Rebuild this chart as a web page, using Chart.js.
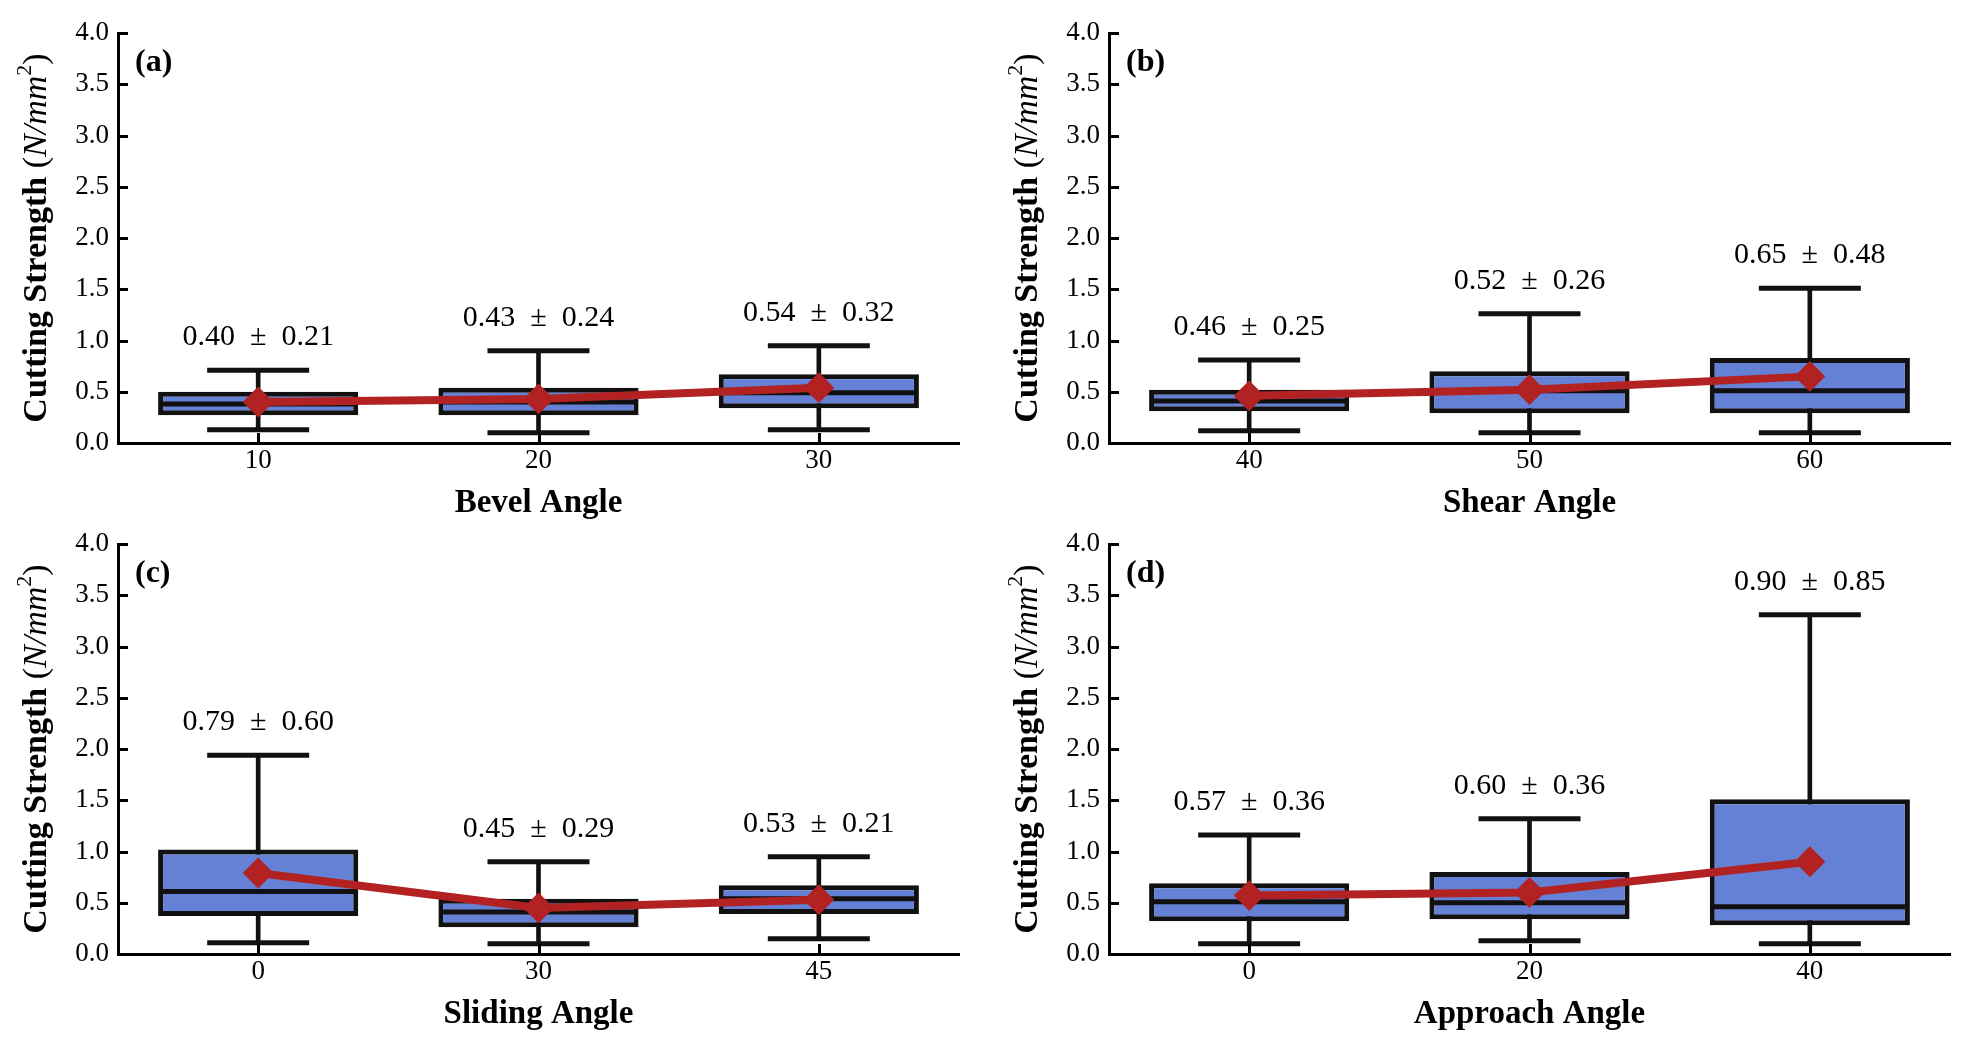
<!DOCTYPE html>
<html>
<head>
<meta charset="utf-8">
<script src="https://cdn.jsdelivr.net/npm/chart.js@4.4.1/dist/chart.umd.min.js"></script>
<style>
  body { margin: 0; background: #fff; width: 1976px; height: 1046px; overflow: hidden; }
  .panel { position: absolute; width: 988px; height: 523px; }
</style>
</head>
<body>
<div class="panel" style="left:0px;top:0px"><canvas id="panel0" width="988" height="523"></canvas></div>
<div class="panel" style="left:991px;top:0px"><canvas id="panel1" width="988" height="523"></canvas></div>
<div class="panel" style="left:0px;top:511px"><canvas id="panel2" width="988" height="523"></canvas></div>
<div class="panel" style="left:991px;top:511px"><canvas id="panel3" width="988" height="523"></canvas></div>
<script>
// one row per panel: (a) bevel, (b) shear, (c) sliding, (d) approach
var panelTags = ['(a)', '(b)', '(c)', '(d)'];
var axisTitles = ['Bevel Angle', 'Shear Angle', 'Sliding Angle', 'Approach Angle'];
var categories = [['10', '20', '30'], ['40', '50', '60'], ['0', '30', '45'], ['0', '20', '40']];

var means = [[0.40, 0.43, 0.54], [0.46, 0.52, 0.65], [0.79, 0.45, 0.53], [0.57, 0.60, 0.90]];
var sds = [[0.21, 0.24, 0.32], [0.25, 0.26, 0.48], [0.60, 0.29, 0.21], [0.36, 0.36, 0.85]];
var medians = [[0.38, 0.40, 0.49], [0.41, 0.51, 0.51], [0.61, 0.41, 0.54], [0.51, 0.50, 0.46]];
var q1s = [[0.27, 0.27, 0.34], [0.31, 0.29, 0.29], [0.37, 0.26, 0.39], [0.32, 0.34, 0.28]];
var q3s = [[0.50, 0.54, 0.67], [0.52, 0.70, 0.83], [1.02, 0.54, 0.67], [0.69, 0.80, 1.51]];
var lowWhiskers = [[0.13, 0.10, 0.13], [0.12, 0.10, 0.10], [0.11, 0.10, 0.15], [0.10, 0.13, 0.10]];
var highWhiskers = [[0.71, 0.90, 0.95], [0.81, 1.26, 1.51], [1.94, 0.90, 0.95], [1.16, 1.32, 3.31]];

var yMin = 0;
var yMax = 4;
var yStep = 0.5;

var serif = '"Liberation Serif", "Times New Roman", serif';
var boxBlue = '#6581d5';
var meanRed = '#b22222';
var ink = '#111111';

// inward tick marks, the y title with italic units, panel tag and mean ± sd labels
var decorations = {
  id: 'decorations',
  afterDatasetsDraw: function(chart) {
    var ctx = chart.ctx;
    var area = chart.chartArea;
    var xs = chart.scales.x;
    var ys = chart.scales.y;
    var p = chart.options.plugins.decorations;

    ctx.save();
    ctx.strokeStyle = '#000';
    ctx.lineWidth = 3;
    ys.ticks.forEach(function(t) {
      var y = Math.round(ys.getPixelForValue(t.value)) + 0.5;
      ctx.beginPath();
      ctx.moveTo(area.left, y);
      ctx.lineTo(area.left + 10, y);
      ctx.stroke();
    });
    xs.ticks.forEach(function(t, i) {
      var x = Math.round(xs.getPixelForValue(i)) + 0.5;
      ctx.beginPath();
      ctx.moveTo(x, area.bottom);
      ctx.lineTo(x, area.bottom - 10);
      ctx.stroke();
    });

    // mean ± sd above the upper whisker
    ctx.fillStyle = '#000';
    ctx.font = '30px ' + serif;
    ctx.textAlign = 'center';
    ctx.textBaseline = 'middle';
    p.means.forEach(function(m, i) {
      var txt = m.toFixed(2) + '  \u00b1  ' + p.sds[i].toFixed(2);
      ctx.fillText(txt, xs.getPixelForValue(i), ys.getPixelForValue(p.high[i]) - 33);
    });

    // panel tag
    ctx.font = 'bold 32px ' + serif;
    ctx.textAlign = 'left';
    ctx.fillText(p.tag, area.left + 17, area.top + 30);

    // rotated y title, mixed styles
    var parts = [
      { text: 'Cutting Strength ', font: 'bold 34px ' + serif, dy: 0 },
      { text: '(', font: '34px ' + serif, dy: 0 },
      { text: 'N/mm', font: 'italic 34px ' + serif, dy: 0 },
      { text: '2', font: '22px ' + serif, dy: -12 },
      { text: ')', font: '34px ' + serif, dy: 0 }
    ];
    var total = 0;
    parts.forEach(function(pt) {
      ctx.font = pt.font;
      pt.w = ctx.measureText(pt.text).width;
      total += pt.w;
    });
    ctx.translate(37, (area.top + area.bottom) / 2);
    ctx.rotate(-Math.PI / 2);
    var cx = -total / 2;
    parts.forEach(function(pt) {
      ctx.font = pt.font;
      ctx.fillText(pt.text, cx, pt.dy);
      cx += pt.w;
    });
    ctx.restore();
  }
};

function drawPanel(k) {
  var boxes = q1s[k].map(function(q, i) { return [q, q3s[k][i]]; });
  var whiskers = lowWhiskers[k].map(function(lo, i) { return [lo, highWhiskers[k][i]]; });

  var data = {
    labels: categories[k],
    datasets: [
      {
        type: 'line',
        data: means[k],
        order: 0,
        borderColor: meanRed,
        borderWidth: 8,
        pointStyle: 'rectRot',
        pointRadius: 14,
        pointHoverRadius: 14,
        pointBackgroundColor: meanRed,
        pointBorderColor: meanRed,
        pointBorderWidth: 2
      },
      {
        type: 'line',
        data: medians[k],
        order: 1,
        showLine: false,
        pointStyle: 'line',
        pointRadius: 98,
        pointHoverRadius: 98,
        pointBorderColor: ink,
        pointBorderWidth: 5
      },
      {
        type: 'line',
        data: highWhiskers[k],
        order: 1,
        showLine: false,
        pointStyle: 'line',
        pointRadius: 51,
        pointHoverRadius: 51,
        pointBorderColor: ink,
        pointBorderWidth: 5
      },
      {
        type: 'line',
        data: lowWhiskers[k],
        order: 1,
        showLine: false,
        pointStyle: 'line',
        pointRadius: 51,
        pointHoverRadius: 51,
        pointBorderColor: ink,
        pointBorderWidth: 5
      },
      {
        type: 'bar',
        data: boxes,
        order: 2,
        grouped: false,
        backgroundColor: boxBlue,
        borderColor: ink,
        borderWidth: 5,
        borderSkipped: false,
        categoryPercentage: 1,
        barPercentage: 0.714
      },
      {
        type: 'bar',
        data: whiskers,
        order: 3,
        grouped: false,
        backgroundColor: ink,
        borderWidth: 0,
        barThickness: 4
      }
    ]
  };

  var options = {
    responsive: false,
    animation: false,
    events: [],
    layout: { autoPadding: false, padding: { left: 0, top: 33, right: 29, bottom: 0 } },
    plugins: {
      legend: { display: false },
      tooltip: { enabled: false },
      decorations: {
        tag: panelTags[k],
        means: means[k],
        sds: sds[k],
        high: highWhiskers[k]
      }
    },
    scales: {
      x: {
        type: 'category',
        offset: true,
        grid: { display: false, drawTicks: false },
        border: { display: true, color: '#000', width: 3 },
        ticks: { color: '#000', padding: 2, font: { family: serif, size: 27 } },
        title: {
          display: true,
          text: axisTitles[k],
          color: '#000',
          padding: 0,
          font: { family: serif, size: 33, weight: 'bold' }
        },
        afterFit: function(s) { s.height = 80; }
      },
      y: {
        min: yMin,
        max: yMax,
        grid: { display: false, drawTicks: false },
        border: { display: true, color: '#000', width: 3 },
        ticks: {
          stepSize: yStep,
          color: '#000',
          padding: 9,
          font: { family: serif, size: 27 },
          callback: function(v) { return Number(v).toFixed(1); }
        },
        afterFit: function(s) { s.width = 118; }
      }
    }
  };

  var context = document.getElementById('panel' + k).getContext('2d');
  new Chart(context, {
    data: data,
    options: options,
    plugins: [decorations]
  });
}

for (var k = 0; k < 4; k++) {
  drawPanel(k);
}
</script>
</body>
</html>
